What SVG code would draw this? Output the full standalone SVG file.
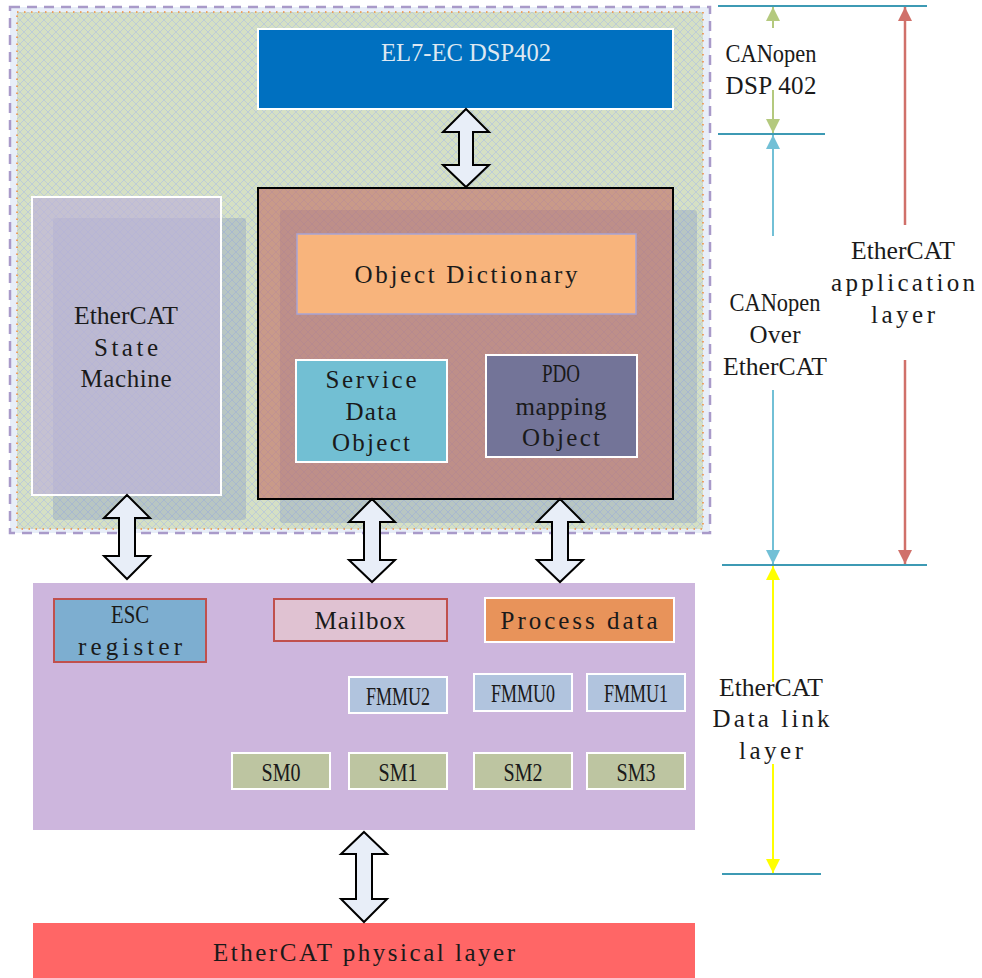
<svg xmlns="http://www.w3.org/2000/svg" width="982" height="978" viewBox="0 0 982 978">
<style>
text{font-family:"Liberation Serif","DejaVu Serif",serif;font-size:25px;fill:#1a1a1a;text-anchor:middle}
.dbl{fill:#e8eef8;stroke:#000;stroke-width:2;stroke-linejoin:miter}
.hl{stroke:#3d9ab4;stroke-width:2}
.wb{stroke:#fff;stroke-width:2}
.fm{fill:#b1c4de;stroke:#fff;stroke-width:2}
.sm{fill:#bdc5a1;stroke:#fff;stroke-width:2}
</style>
<defs>
<pattern id="hatch" width="8" height="8" patternUnits="userSpaceOnUse">
<path d="M0,0 L8,8 M8,0 L0,8" stroke="#aabde6" stroke-width="0.8" opacity="0.7"/>
</pattern>
<marker id="mg" viewBox="0 0 10 10" refX="10" refY="5" markerWidth="14" markerHeight="14" markerUnits="userSpaceOnUse" orient="auto"><path d="M0,0 L10,5 L0,10 Z" fill="#b4c97e"/></marker>
<marker id="mb" viewBox="0 0 10 10" refX="10" refY="5" markerWidth="14" markerHeight="14" markerUnits="userSpaceOnUse" orient="auto"><path d="M0,0 L10,5 L0,10 Z" fill="#72c0d6"/></marker>
<marker id="mr" viewBox="0 0 10 10" refX="10" refY="5" markerWidth="14" markerHeight="14" markerUnits="userSpaceOnUse" orient="auto"><path d="M0,0 L10,5 L0,10 Z" fill="#d0706a"/></marker>
<marker id="my" viewBox="0 0 10 10" refX="10" refY="5" markerWidth="14" markerHeight="14" markerUnits="userSpaceOnUse" orient="auto"><path d="M0,0 L10,5 L0,10 Z" fill="#ffff00"/></marker>
</defs>
<rect width="982" height="978" fill="#fff"/>

<g id="application-area">
<rect x="10" y="7" width="700" height="526" fill="#e8eef8" stroke="#a99ac9" stroke-width="2.5" stroke-dasharray="10,7"/>
<rect x="17" y="12" width="686" height="517" fill="#d5e0c4"/>
<rect x="17" y="12" width="686" height="517" fill="url(#hatch)"/>
<rect x="17" y="12" width="686" height="517" fill="none" stroke="#f08a3c" stroke-width="1.5" stroke-dasharray="1.5,5.5"/>
</g>

<g id="el7">
<rect x="258" y="29" width="415" height="80" fill="#0070c0" class="wb"/>
<text x="466" y="61" textLength="170" lengthAdjust="spacingAndGlyphs" style="fill:#dde8f2">EL7-EC DSP402</text>
</g>

<g id="state-machine">
<rect x="53" y="218" width="193" height="302" rx="3" fill="#788cbe" opacity="0.3"/>
<rect x="32" y="197" width="189" height="298" fill="#beb4d7" fill-opacity="0.7" class="wb"/>
<text x="126" y="324" textLength="104" lengthAdjust="spacingAndGlyphs">EtherCAT</text>
<text x="126" y="356" textLength="64">State</text>
<text x="126" y="387" textLength="91">Machine</text>
</g>

<g id="object-area">
<rect x="280" y="210" width="417" height="313" rx="3" fill="#788cbe" opacity="0.3"/>
<rect x="258" y="188" width="415" height="311" fill="#c26a63" fill-opacity="0.6" stroke="#000" stroke-width="2"/>
</g>

<g id="object-dictionary">
<rect x="297" y="234" width="339" height="80" fill="#f8b47c" stroke="#a8a4d4" stroke-width="1.5"/>
<text x="466" y="283" textLength="223">Object Dictionary</text>
</g>

<g id="sdo">
<rect x="296" y="360" width="151" height="102" fill="#72bfd3" class="wb"/>
<text x="371" y="388" textLength="91">Service</text>
<text x="371" y="420" textLength="51">Data</text>
<text x="371" y="451" textLength="78">Object</text>
</g>

<g id="pdo">
<rect x="486" y="355" width="151" height="102" fill="#737498" class="wb"/>
<text x="561" y="382" textLength="38" lengthAdjust="spacingAndGlyphs">PDO</text>
<text x="561" y="415" textLength="91">mapping</text>
<text x="561" y="446" textLength="78">Object</text>
</g>

<g id="data-link">
<rect x="33" y="583" width="662" height="247" fill="#cdb6dd"/>
</g>

<g id="esc-register">
<rect x="54" y="599" width="152" height="63" fill="#7daed0" stroke="#c0504d" stroke-width="2"/>
<text x="130" y="623" textLength="38" lengthAdjust="spacingAndGlyphs">ESC</text>
<text x="130" y="655" textLength="104">register</text>
</g>

<g id="mailbox">
<rect x="274" y="599" width="173" height="42" fill="#e0c2d2" stroke="#c0504d" stroke-width="2"/>
<text x="360" y="629" textLength="91">Mailbox</text>
</g>

<g id="process-data">
<rect x="485" y="598" width="189" height="44" fill="#e8935a" class="wb"/>
<text x="579" y="629" textLength="157">Process data</text>
</g>

<g id="fmmu2"><rect x="349" y="677" width="98" height="36" class="fm"/><text x="398" y="705" textLength="64" lengthAdjust="spacingAndGlyphs">FMMU2</text></g>
<g id="fmmu0"><rect x="474" y="674" width="98" height="37" class="fm"/><text x="523" y="702" textLength="64" lengthAdjust="spacingAndGlyphs">FMMU0</text></g>
<g id="fmmu1"><rect x="587" y="674" width="98" height="37" class="fm"/><text x="636" y="702" textLength="64" lengthAdjust="spacingAndGlyphs">FMMU1</text></g>
<g id="sm0"><rect x="232" y="753" width="98" height="36" class="sm"/><text x="281" y="781" textLength="39" lengthAdjust="spacingAndGlyphs">SM0</text></g>
<g id="sm1"><rect x="349" y="753" width="98" height="36" class="sm"/><text x="398" y="781" textLength="39" lengthAdjust="spacingAndGlyphs">SM1</text></g>
<g id="sm2"><rect x="474" y="753" width="98" height="36" class="sm"/><text x="523" y="781" textLength="39" lengthAdjust="spacingAndGlyphs">SM2</text></g>
<g id="sm3"><rect x="587" y="753" width="98" height="36" class="sm"/><text x="636" y="781" textLength="39" lengthAdjust="spacingAndGlyphs">SM3</text></g>

<g id="physical">
<rect x="33" y="923" width="662" height="55" fill="#ff6666"/>
<text x="364" y="961" textLength="302">EtherCAT physical layer</text>
</g>

<g id="connectors">
<path class="dbl" d="M466,109 L489,132 L473,132 L473,165 L489,165 L466,187 L443,165 L459,165 L459,132 L443,132 Z"/>
<path class="dbl" d="M127,495 L150,518 L135,518 L135,556 L150,556 L127,579 L104,556 L119,556 L119,518 L104,518 Z"/>
<path class="dbl" d="M372,499 L395,522 L380,522 L380,560 L395,560 L372,582 L349,560 L364,560 L364,522 L349,522 Z"/>
<path class="dbl" d="M560,499 L583,522 L568,522 L568,560 L583,560 L560,582 L537,560 L552,560 L552,522 L537,522 Z"/>
<path class="dbl" d="M364,832 L387,854 L372,854 L372,899 L387,899 L364,922 L341,899 L356,899 L356,854 L341,854 Z"/>
</g>

<g id="layer-scale">
<line class="hl" x1="718" y1="6" x2="927" y2="6"/>
<line class="hl" x1="718" y1="134" x2="825" y2="134"/>
<line class="hl" x1="722" y1="565" x2="927" y2="565"/>
<line class="hl" x1="722" y1="874" x2="821" y2="874"/>
<line x1="773" y1="28" x2="773" y2="7" stroke="#b4c97e" stroke-width="2" marker-end="url(#mg)"/>
<line x1="773" y1="90" x2="773" y2="133" stroke="#b4c97e" stroke-width="2" marker-end="url(#mg)"/>
<line x1="773" y1="236" x2="773" y2="135" stroke="#72c0d6" stroke-width="2" marker-end="url(#mb)"/>
<line x1="773" y1="390" x2="773" y2="564" stroke="#72c0d6" stroke-width="2" marker-end="url(#mb)"/>
<line x1="905" y1="225" x2="905" y2="7" stroke="#d0706a" stroke-width="2.5" marker-end="url(#mr)"/>
<line x1="905" y1="360" x2="905" y2="564" stroke="#d0706a" stroke-width="2.5" marker-end="url(#mr)"/>
<line x1="773" y1="682" x2="773" y2="566" stroke="#ffff00" stroke-width="2" marker-end="url(#my)"/>
<line x1="773" y1="764" x2="773" y2="873" stroke="#ffff00" stroke-width="2" marker-end="url(#my)"/>
<text x="771" y="62" textLength="91" lengthAdjust="spacingAndGlyphs">CANopen</text>
<text x="771" y="94" textLength="91">DSP 402</text>
<text x="775" y="311" textLength="91" lengthAdjust="spacingAndGlyphs">CANopen</text>
<text x="775" y="343" textLength="51">Over</text>
<text x="775" y="375" textLength="104" lengthAdjust="spacingAndGlyphs">EtherCAT</text>
<text x="903" y="259" textLength="104" lengthAdjust="spacingAndGlyphs">EtherCAT</text>
<text x="903" y="291" textLength="144">application</text>
<text x="903" y="323" textLength="64">layer</text>
<text x="771" y="696" textLength="104" lengthAdjust="spacingAndGlyphs">EtherCAT</text>
<text x="771" y="727" textLength="117">Data link</text>
<text x="771" y="759" textLength="64">layer</text>
</g>
</svg>
